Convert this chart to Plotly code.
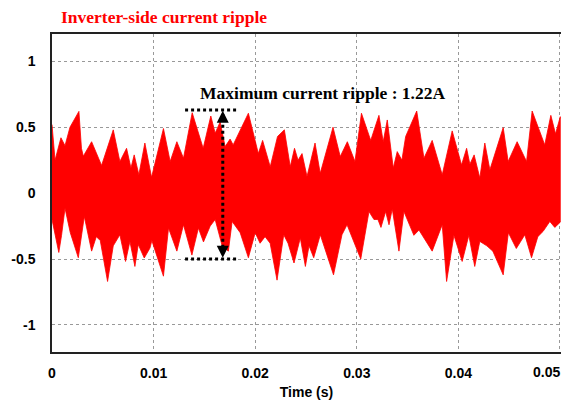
import plotly.graph_objects as go

# Upper envelope of the inverter-side current ripple (time in s, current in A)
t_upper = [0.0, 0.0003, 0.00088, 0.00128, 0.00177, 0.00265, 0.0029, 0.00308, 0.0039, 0.00488,
           0.00603, 0.00668, 0.00734, 0.00777, 0.00809, 0.00855, 0.00914, 0.0098, 0.01097, 0.01163,
           0.01229, 0.01294, 0.0138, 0.01488, 0.01563, 0.01606, 0.01655, 0.01704, 0.01753, 0.01783,
           0.01933, 0.02031, 0.02073, 0.02148, 0.0222, 0.02287, 0.02345, 0.02387, 0.02422, 0.02461,
           0.0251, 0.02589, 0.0264, 0.02766, 0.02837, 0.02907, 0.02982, 0.03046, 0.03137, 0.03218,
           0.0326, 0.033, 0.03359, 0.03398, 0.03444, 0.03481, 0.0359, 0.03661, 0.03742, 0.03841,
           0.03939, 0.04031, 0.04081, 0.04113, 0.04155, 0.04211, 0.0426, 0.0431, 0.04441, 0.0449,
           0.04578, 0.04671, 0.04726, 0.0485, 0.0491, 0.04956, 0.05003]
i_upper = [0.52, 0.25, 0.42, 0.36, 0.50, 0.62, 0.34, 0.28, 0.39, 0.21,
           0.48, 0.24, 0.34, 0.19, 0.29, 0.14, 0.38, 0.12, 0.49, 0.24,
           0.39, 0.265, 0.61, 0.34, 0.585, 0.455, 0.54, 0.353, 0.41, 0.366,
           0.606, 0.30, 0.40, 0.20, 0.43, 0.48, 0.20, 0.34, 0.25, 0.30,
           0.126, 0.38, 0.15, 0.50, 0.277, 0.39, 0.24, 0.606, 0.40, 0.59,
           0.39, 0.555, 0.19, 0.315, 0.25, 0.43, 0.623, 0.265, 0.40, 0.139,
           0.472, 0.214, 0.34, 0.22, 0.29, 0.114, 0.38, 0.177, 0.497, 0.24,
           0.39, 0.24, 0.623, 0.366, 0.59, 0.45, 0.58]

# Lower envelope
t_lower = [0.0, 0.00067, 0.00094, 0.00128, 0.0018, 0.00259, 0.00318, 0.0039, 0.00436, 0.00475,
           0.00547, 0.00603, 0.00668, 0.00724, 0.00767, 0.00816, 0.00849, 0.00908, 0.00964, 0.00983,
           0.01097, 0.01147, 0.01229, 0.01294, 0.01377, 0.01441, 0.01491, 0.01557, 0.01606, 0.01675,
           0.01736, 0.01773, 0.01852, 0.01933, 0.02, 0.02048, 0.02097, 0.02147, 0.02215, 0.02281,
           0.02323, 0.02382, 0.02444, 0.02494, 0.0253, 0.02576, 0.02641, 0.02771, 0.02854, 0.02904,
           0.03039, 0.0312, 0.03169, 0.03208, 0.03238, 0.03284, 0.03317, 0.03349, 0.03415, 0.03464,
           0.03562, 0.03612, 0.03742, 0.03841, 0.03884, 0.03956, 0.04037, 0.04103, 0.04161, 0.04211,
           0.0428, 0.04339, 0.04441, 0.04492, 0.0457, 0.04654, 0.0472, 0.04782, 0.04834, 0.049,
           0.04949, 0.05003]
i_lower = [-0.20, -0.45, -0.32, -0.114, -0.30, -0.49, -0.177, -0.44, -0.33, -0.36,
           -0.67, -0.40, -0.316, -0.518, -0.366, -0.556, -0.39, -0.492, -0.417, -0.36,
           -0.63, -0.265, -0.44, -0.24, -0.47, -0.265, -0.37, -0.25, -0.20, -0.40,
           -0.44, -0.215, -0.30, -0.49, -0.30, -0.38, -0.33, -0.38, -0.66, -0.316,
           -0.38, -0.53, -0.34, -0.556, -0.40, -0.49, -0.316, -0.62, -0.316, -0.24,
           -0.50, -0.14, -0.20, -0.20, -0.26, -0.14, -0.24, -0.12, -0.44, -0.14,
           -0.32, -0.28, -0.44, -0.24, -0.67, -0.32, -0.518, -0.32, -0.556, -0.366,
           -0.40, -0.44, -0.62, -0.30, -0.42, -0.316, -0.49, -0.33, -0.29, -0.215,
           -0.26, -0.22]

x_ticks = [0, 0.01, 0.02, 0.03, 0.04, 0.05]
x_tick_labels = ["0", "0.01", "0.02", "0.03", "0.04", "0.05"]
y_ticks = [-1, -0.5, 0, 0.5, 1]
y_tick_labels = ["-1", "-0.5", "0", "0.5", "1"]

# Marked ripple span
ripple_top = 0.63
ripple_bottom = -0.5
ripple_t_start = 0.0131
ripple_t_end = 0.01825
arrow_t = 0.01681
ripple_label = "Maximum current ripple : 1.22A"
title_text = "Inverter-side current ripple"

RED = "rgb(255,0,0)"
tick_font = dict(family="Liberation Sans, Arial, sans-serif", size=14, color="black", weight="bold")
serif = "Liberation Serif, Times New Roman, serif"

fig = go.Figure()
fig.add_trace(go.Scatter(
    x=t_upper + t_lower[::-1],
    y=i_upper + i_lower[::-1],
    mode="lines", fill="toself", fillcolor=RED,
    line=dict(color=RED, width=0.8),
    hoverinfo="skip", showlegend=False,
))

dot_line = dict(color="black", width=3, dash="dot")
fig.add_shape(type="line", x0=ripple_t_start, x1=ripple_t_end, y0=ripple_top, y1=ripple_top, line=dot_line)
fig.add_shape(type="line", x0=ripple_t_start, x1=ripple_t_end, y0=ripple_bottom, y1=ripple_bottom, line=dot_line)
fig.add_shape(type="line", x0=arrow_t, x1=arrow_t, y0=ripple_bottom + 0.04, y1=ripple_top - 0.03, line=dot_line)
fig.add_annotation(x=arrow_t, y=ripple_top - 0.005, ax=0, ay=10, xref="x", yref="y", text="",
                   showarrow=True, arrowhead=2, arrowsize=1.2, arrowwidth=2, arrowcolor="black")
fig.add_annotation(x=arrow_t, y=ripple_bottom + 0.01, ax=0, ay=-10, xref="x", yref="y", text="",
                   showarrow=True, arrowhead=2, arrowsize=1.2, arrowwidth=2, arrowcolor="black")

fig.add_annotation(x=0.02663, y=0.76, xref="x", yref="y", text=ripple_label, showarrow=False,
                   font=dict(family=serif, size=17.5, color="black", weight="bold"),
                   xanchor="center", yanchor="middle")
fig.add_annotation(x=0.0143, y=1.053, xref="paper", yref="paper", text=title_text, showarrow=False,
                   font=dict(family=serif, size=17.5, color=RED, weight="bold"),
                   xanchor="left", yanchor="middle")

# The last x tick label sits flush with the right edge, as in the reference
fig.add_annotation(x=1, y=0, xref="paper", yref="paper", text=x_tick_labels[-1], showarrow=False,
                   font=tick_font, xanchor="right", yanchor="top", xshift=1, yshift=-10)

axis_common = dict(showline=True, linecolor="#222", linewidth=1.5, mirror=True,
                   showgrid=True, gridcolor="#999", gridwidth=1, griddash="dot",
                   zeroline=False, ticks="", tickfont=tick_font, automargin=False,
                   ticklabeloverflow="allow")
fig.update_xaxes(range=[0, 0.0501], tickvals=x_ticks, ticktext=x_tick_labels[:-1] + [""],
                 title=dict(text="Time (s)", font=tick_font, standoff=8),
                 ticklabelstandoff=7, **axis_common)
fig.update_yaxes(range=[-1.205, 1.207], tickvals=y_ticks, ticktext=y_tick_labels,
                 ticklabelstandoff=12, **axis_common)

# The page places the figure 8 px in from the top-left corner, so the figure is sized
# and its margins set so that the plot area lands where the reference has it.
fig.update_layout(width=561, height=396, margin=dict(l=44, r=8, t=26, b=52),
                  paper_bgcolor="white", plot_bgcolor="white", showlegend=False)

fig.write_html("out.html")
